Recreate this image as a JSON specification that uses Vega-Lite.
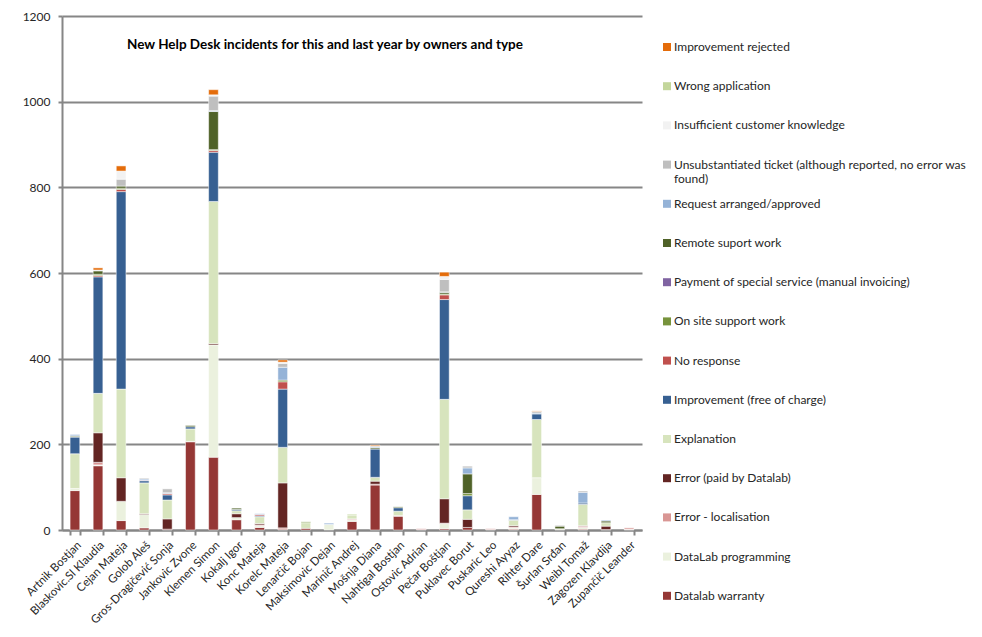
{
  "$schema": "https://vega.github.io/schema/vega-lite/v6.json",
  "width": 580,
  "height": 514,
  "autosize": "none",
  "padding": {"left": 62, "top": 16, "right": 340, "bottom": 107},
  "background": "white",
  "config": {"font": "Lato", "view": {"stroke": null}},
  "title": {"text": "New Help Desk incidents for this and last year by owners and type", "fontSize": 13.5, "fontWeight": "bold", "color": "#000000", "anchor": "middle", "dx": -27, "offset": -41},
  "datasets": {
    "types": [
      {"type": "Datalab warranty", "series": 1},
      {"type": "DataLab programming", "series": 2},
      {"type": "Error - localisation", "series": 3},
      {"type": "Error (paid by Datalab)", "series": 4},
      {"type": "Explanation", "series": 5},
      {"type": "Improvement (free of charge)", "series": 6},
      {"type": "No response", "series": 7},
      {"type": "On site support work", "series": 8},
      {"type": "Payment of special service (manual invoicing)", "series": 9},
      {"type": "Remote suport work", "series": 10},
      {"type": "Request arranged/approved", "series": 11},
      {"type": "Unsubstantiated ticket (although reported, no error was found)", "series": 12},
      {"type": "Insufficient customer knowledge", "series": 13},
      {"type": "Wrong application", "series": 14},
      {"type": "Improvement rejected", "series": 15}
    ]
  },
  "data": {"values": [
    {"owner": "Artnik Bostjan", "type": "Datalab warranty", "count": 92},
    {"owner": "Artnik Bostjan", "type": "DataLab programming", "count": 5},
    {"owner": "Artnik Bostjan", "type": "Explanation", "count": 81},
    {"owner": "Artnik Bostjan", "type": "Improvement (free of charge)", "count": 39},
    {"owner": "Artnik Bostjan", "type": "On site support work", "count": 1},
    {"owner": "Artnik Bostjan", "type": "Remote suport work", "count": 2},
    {"owner": "Artnik Bostjan", "type": "Request arranged/approved", "count": 3},
    {"owner": "Blaskovic.Sl Klaudia", "type": "Datalab warranty", "count": 150},
    {"owner": "Blaskovic.Sl Klaudia", "type": "DataLab programming", "count": 2},
    {"owner": "Blaskovic.Sl Klaudia", "type": "Error - localisation", "count": 6},
    {"owner": "Blaskovic.Sl Klaudia", "type": "Error (paid by Datalab)", "count": 69},
    {"owner": "Blaskovic.Sl Klaudia", "type": "Explanation", "count": 92},
    {"owner": "Blaskovic.Sl Klaudia", "type": "Improvement (free of charge)", "count": 272},
    {"owner": "Blaskovic.Sl Klaudia", "type": "No response", "count": 3},
    {"owner": "Blaskovic.Sl Klaudia", "type": "On site support work", "count": 3},
    {"owner": "Blaskovic.Sl Klaudia", "type": "Remote suport work", "count": 8},
    {"owner": "Blaskovic.Sl Klaudia", "type": "Request arranged/approved", "count": 1},
    {"owner": "Blaskovic.Sl Klaudia", "type": "Unsubstantiated ticket (although reported, no error was found)", "count": 1},
    {"owner": "Blaskovic.Sl Klaudia", "type": "Improvement rejected", "count": 5},
    {"owner": "Cejan Mateja", "type": "Datalab warranty", "count": 22},
    {"owner": "Cejan Mateja", "type": "DataLab programming", "count": 45},
    {"owner": "Cejan Mateja", "type": "Error (paid by Datalab)", "count": 55},
    {"owner": "Cejan Mateja", "type": "Explanation", "count": 207},
    {"owner": "Cejan Mateja", "type": "Improvement (free of charge)", "count": 461},
    {"owner": "Cejan Mateja", "type": "No response", "count": 5},
    {"owner": "Cejan Mateja", "type": "On site support work", "count": 3},
    {"owner": "Cejan Mateja", "type": "Remote suport work", "count": 5},
    {"owner": "Cejan Mateja", "type": "Unsubstantiated ticket (although reported, no error was found)", "count": 16},
    {"owner": "Cejan Mateja", "type": "Insufficient customer knowledge", "count": 19},
    {"owner": "Cejan Mateja", "type": "Improvement rejected", "count": 12},
    {"owner": "Golob Aleš", "type": "Datalab warranty", "count": 5},
    {"owner": "Golob Aleš", "type": "DataLab programming", "count": 31},
    {"owner": "Golob Aleš", "type": "Error (paid by Datalab)", "count": 2},
    {"owner": "Golob Aleš", "type": "Explanation", "count": 72},
    {"owner": "Golob Aleš", "type": "Improvement (free of charge)", "count": 5},
    {"owner": "Golob Aleš", "type": "No response", "count": 1},
    {"owner": "Golob Aleš", "type": "Request arranged/approved", "count": 3},
    {"owner": "Golob Aleš", "type": "Unsubstantiated ticket (although reported, no error was found)", "count": 2},
    {"owner": "Gros-Dragičević Sonja", "type": "Datalab warranty", "count": 2},
    {"owner": "Gros-Dragičević Sonja", "type": "Error (paid by Datalab)", "count": 24},
    {"owner": "Gros-Dragičević Sonja", "type": "Explanation", "count": 44},
    {"owner": "Gros-Dragičević Sonja", "type": "Improvement (free of charge)", "count": 12},
    {"owner": "Gros-Dragičević Sonja", "type": "No response", "count": 3},
    {"owner": "Gros-Dragičević Sonja", "type": "Request arranged/approved", "count": 2},
    {"owner": "Gros-Dragičević Sonja", "type": "Unsubstantiated ticket (although reported, no error was found)", "count": 9},
    {"owner": "Jankovic Zvone", "type": "Datalab warranty", "count": 206},
    {"owner": "Jankovic Zvone", "type": "DataLab programming", "count": 1},
    {"owner": "Jankovic Zvone", "type": "Explanation", "count": 29},
    {"owner": "Jankovic Zvone", "type": "Improvement (free of charge)", "count": 5},
    {"owner": "Jankovic Zvone", "type": "Remote suport work", "count": 3},
    {"owner": "Klemen Simon", "type": "Datalab warranty", "count": 170},
    {"owner": "Klemen Simon", "type": "DataLab programming", "count": 262},
    {"owner": "Klemen Simon", "type": "Error (paid by Datalab)", "count": 3},
    {"owner": "Klemen Simon", "type": "Explanation", "count": 332},
    {"owner": "Klemen Simon", "type": "Improvement (free of charge)", "count": 115},
    {"owner": "Klemen Simon", "type": "No response", "count": 4},
    {"owner": "Klemen Simon", "type": "On site support work", "count": 2},
    {"owner": "Klemen Simon", "type": "Remote suport work", "count": 89},
    {"owner": "Klemen Simon", "type": "Request arranged/approved", "count": 2},
    {"owner": "Klemen Simon", "type": "Unsubstantiated ticket (although reported, no error was found)", "count": 34},
    {"owner": "Klemen Simon", "type": "Insufficient customer knowledge", "count": 3},
    {"owner": "Klemen Simon", "type": "Improvement rejected", "count": 12},
    {"owner": "Kokalj Igor", "type": "Datalab warranty", "count": 24},
    {"owner": "Kokalj Igor", "type": "DataLab programming", "count": 5},
    {"owner": "Kokalj Igor", "type": "Error (paid by Datalab)", "count": 9},
    {"owner": "Kokalj Igor", "type": "Explanation", "count": 7},
    {"owner": "Kokalj Igor", "type": "Improvement (free of charge)", "count": 3},
    {"owner": "Kokalj Igor", "type": "Remote suport work", "count": 3},
    {"owner": "Konc Mateja", "type": "Datalab warranty", "count": 6},
    {"owner": "Konc Mateja", "type": "DataLab programming", "count": 4},
    {"owner": "Konc Mateja", "type": "Error - localisation", "count": 2},
    {"owner": "Konc Mateja", "type": "Error (paid by Datalab)", "count": 3},
    {"owner": "Konc Mateja", "type": "Explanation", "count": 16},
    {"owner": "Konc Mateja", "type": "Improvement (free of charge)", "count": 2},
    {"owner": "Konc Mateja", "type": "No response", "count": 3},
    {"owner": "Konc Mateja", "type": "Request arranged/approved", "count": 2},
    {"owner": "Korelc Mateja", "type": "Datalab warranty", "count": 2},
    {"owner": "Korelc Mateja", "type": "Error - localisation", "count": 3},
    {"owner": "Korelc Mateja", "type": "Error (paid by Datalab)", "count": 105},
    {"owner": "Korelc Mateja", "type": "Explanation", "count": 83},
    {"owner": "Korelc Mateja", "type": "Improvement (free of charge)", "count": 136},
    {"owner": "Korelc Mateja", "type": "No response", "count": 17},
    {"owner": "Korelc Mateja", "type": "On site support work", "count": 4},
    {"owner": "Korelc Mateja", "type": "Request arranged/approved", "count": 30},
    {"owner": "Korelc Mateja", "type": "Unsubstantiated ticket (although reported, no error was found)", "count": 9},
    {"owner": "Korelc Mateja", "type": "Insufficient customer knowledge", "count": 3},
    {"owner": "Korelc Mateja", "type": "Improvement rejected", "count": 5},
    {"owner": "Lenarčič Bojan", "type": "Datalab warranty", "count": 4},
    {"owner": "Lenarčič Bojan", "type": "Explanation", "count": 13},
    {"owner": "Lenarčič Bojan", "type": "On site support work", "count": 2},
    {"owner": "Maksimovic Dejan", "type": "DataLab programming", "count": 13},
    {"owner": "Maksimovic Dejan", "type": "Request arranged/approved", "count": 3},
    {"owner": "Marinič Andrej", "type": "Datalab warranty", "count": 20},
    {"owner": "Marinič Andrej", "type": "DataLab programming", "count": 4},
    {"owner": "Marinič Andrej", "type": "Error - localisation", "count": 2},
    {"owner": "Marinič Andrej", "type": "Explanation", "count": 9},
    {"owner": "Marinič Andrej", "type": "Wrong application", "count": 2},
    {"owner": "Mošnja Diana", "type": "Datalab warranty", "count": 105},
    {"owner": "Mošnja Diana", "type": "Error - localisation", "count": 2},
    {"owner": "Mošnja Diana", "type": "Error (paid by Datalab)", "count": 7},
    {"owner": "Mošnja Diana", "type": "Explanation", "count": 9},
    {"owner": "Mošnja Diana", "type": "Improvement (free of charge)", "count": 66},
    {"owner": "Mošnja Diana", "type": "Remote suport work", "count": 3},
    {"owner": "Mošnja Diana", "type": "Request arranged/approved", "count": 2},
    {"owner": "Mošnja Diana", "type": "Unsubstantiated ticket (although reported, no error was found)", "count": 2},
    {"owner": "Mošnja Diana", "type": "Improvement rejected", "count": 2},
    {"owner": "Nahtigal Bostjan", "type": "Datalab warranty", "count": 32},
    {"owner": "Nahtigal Bostjan", "type": "Error - localisation", "count": 2},
    {"owner": "Nahtigal Bostjan", "type": "Explanation", "count": 10},
    {"owner": "Nahtigal Bostjan", "type": "Improvement (free of charge)", "count": 8},
    {"owner": "Nahtigal Bostjan", "type": "Remote suport work", "count": 2},
    {"owner": "Ostovic Adrian", "type": "Datalab warranty", "count": 1},
    {"owner": "Ostovic Adrian", "type": "Error - localisation", "count": 2},
    {"owner": "Pečar Boštjan", "type": "Datalab warranty", "count": 3},
    {"owner": "Pečar Boštjan", "type": "DataLab programming", "count": 12},
    {"owner": "Pečar Boštjan", "type": "Error - localisation", "count": 1},
    {"owner": "Pečar Boštjan", "type": "Error (paid by Datalab)", "count": 57},
    {"owner": "Pečar Boštjan", "type": "Explanation", "count": 232},
    {"owner": "Pečar Boštjan", "type": "Improvement (free of charge)", "count": 233},
    {"owner": "Pečar Boštjan", "type": "No response", "count": 11},
    {"owner": "Pečar Boštjan", "type": "On site support work", "count": 2},
    {"owner": "Pečar Boštjan", "type": "Remote suport work", "count": 4},
    {"owner": "Pečar Boštjan", "type": "Request arranged/approved", "count": 1},
    {"owner": "Pečar Boštjan", "type": "Unsubstantiated ticket (although reported, no error was found)", "count": 29},
    {"owner": "Pečar Boštjan", "type": "Insufficient customer knowledge", "count": 7},
    {"owner": "Pečar Boštjan", "type": "Improvement rejected", "count": 10},
    {"owner": "Puklavec Borut", "type": "Datalab warranty", "count": 6},
    {"owner": "Puklavec Borut", "type": "Error (paid by Datalab)", "count": 19},
    {"owner": "Puklavec Borut", "type": "Explanation", "count": 22},
    {"owner": "Puklavec Borut", "type": "Improvement (free of charge)", "count": 33},
    {"owner": "Puklavec Borut", "type": "On site support work", "count": 5},
    {"owner": "Puklavec Borut", "type": "Remote suport work", "count": 46},
    {"owner": "Puklavec Borut", "type": "Request arranged/approved", "count": 14},
    {"owner": "Puklavec Borut", "type": "Unsubstantiated ticket (although reported, no error was found)", "count": 4},
    {"owner": "Puskaric Leo", "type": "DataLab programming", "count": 1},
    {"owner": "Puskaric Leo", "type": "Error - localisation", "count": 2},
    {"owner": "Qureshi Ayyaz", "type": "Datalab warranty", "count": 2},
    {"owner": "Qureshi Ayyaz", "type": "DataLab programming", "count": 3},
    {"owner": "Qureshi Ayyaz", "type": "Error - localisation", "count": 2},
    {"owner": "Qureshi Ayyaz", "type": "Error (paid by Datalab)", "count": 3},
    {"owner": "Qureshi Ayyaz", "type": "Explanation", "count": 13},
    {"owner": "Qureshi Ayyaz", "type": "Improvement (free of charge)", "count": 1},
    {"owner": "Qureshi Ayyaz", "type": "Request arranged/approved", "count": 7},
    {"owner": "Rihter Dare", "type": "Datalab warranty", "count": 83},
    {"owner": "Rihter Dare", "type": "DataLab programming", "count": 39},
    {"owner": "Rihter Dare", "type": "Explanation", "count": 136},
    {"owner": "Rihter Dare", "type": "Improvement (free of charge)", "count": 13},
    {"owner": "Rihter Dare", "type": "Request arranged/approved", "count": 2},
    {"owner": "Rihter Dare", "type": "Unsubstantiated ticket (although reported, no error was found)", "count": 4},
    {"owner": "Rihter Dare", "type": "Improvement rejected", "count": 1},
    {"owner": "Šurlan Srđan", "type": "Datalab warranty", "count": 1},
    {"owner": "Šurlan Srđan", "type": "Explanation", "count": 2},
    {"owner": "Šurlan Srđan", "type": "Remote suport work", "count": 6},
    {"owner": "Šurlan Srđan", "type": "Unsubstantiated ticket (although reported, no error was found)", "count": 2},
    {"owner": "Weibl Tomaž", "type": "Datalab warranty", "count": 2},
    {"owner": "Weibl Tomaž", "type": "DataLab programming", "count": 4},
    {"owner": "Weibl Tomaž", "type": "Error - localisation", "count": 3},
    {"owner": "Weibl Tomaž", "type": "Error (paid by Datalab)", "count": 1},
    {"owner": "Weibl Tomaž", "type": "Explanation", "count": 50},
    {"owner": "Weibl Tomaž", "type": "Improvement (free of charge)", "count": 3},
    {"owner": "Weibl Tomaž", "type": "Request arranged/approved", "count": 25},
    {"owner": "Weibl Tomaž", "type": "Unsubstantiated ticket (although reported, no error was found)", "count": 3},
    {"owner": "Zagozen Klavdija", "type": "Datalab warranty", "count": 1},
    {"owner": "Zagozen Klavdija", "type": "Error (paid by Datalab)", "count": 8},
    {"owner": "Zagozen Klavdija", "type": "Explanation", "count": 8},
    {"owner": "Zagozen Klavdija", "type": "Remote suport work", "count": 4},
    {"owner": "Zagozen Klavdija", "type": "Request arranged/approved", "count": 2},
    {"owner": "Zupančič Leander", "type": "Datalab warranty", "count": 1},
    {"owner": "Zupančič Leander", "type": "DataLab programming", "count": 1},
    {"owner": "Zupančič Leander", "type": "Error - localisation", "count": 3}
  ]},
  "transform": [
    {"lookup": "type", "from": {"data": {"name": "types"}, "key": "type", "fields": ["series"]}}
  ],
  "mark": {"type": "bar", "stroke": "white", "strokeWidth": 0.5},
  "encoding": {
    "x": {
      "field": "owner", "type": "nominal", "sort": null,
      "scale": {"paddingInner": 0.58, "paddingOuter": 0.35},
      "axis": {"title": null, "labelAngle": -45, "labelFontSize": 11.5, "labelColor": "#262626", "labelPadding": 4,
               "domainColor": "#868686", "domainWidth": 2, "tickColor": "#868686", "tickWidth": 2, "tickSize": 5, "tickBand": "extent"}
    },
    "y": {
      "field": "count", "type": "quantitative", "stack": "zero",
      "scale": {"domain": [0, 1200], "nice": false},
      "axis": {"title": null, "values": [0, 200, 400, 600, 800, 1000, 1200], "format": "d", "grid": true, "gridColor": "#868686", "gridWidth": 2,
               "domainColor": "#868686", "domainWidth": 2, "tickColor": "#868686", "tickWidth": 2, "tickSize": 4, "labelPadding": 8,
               "labelFontSize": 12, "labelColor": "#262626"}
    },
    "order": {"field": "series", "type": "quantitative", "sort": "ascending"},
    "color": {
      "field": "type", "type": "nominal",
      "scale": {
        "domain": ["Improvement rejected", "Wrong application", "Insufficient customer knowledge", "Unsubstantiated ticket (although reported, no error was found)", "Request arranged/approved", "Remote suport work", "Payment of special service (manual invoicing)", "On site support work", "No response", "Improvement (free of charge)", "Explanation", "Error (paid by Datalab)", "Error - localisation", "DataLab programming", "Datalab warranty"],
        "range": ["#E46C0A", "#C3D69B", "#F2F2F2", "#BFBFBF", "#95B3D7", "#4F6228", "#8064A2", "#77933C", "#C0504D", "#376092", "#D7E4BD", "#632523", "#D99694", "#EBF1DE", "#953735"]
      },
      "legend": {
        "orient": "none", "legendX": 599, "legendY": 25, "title": null, "padding": 0,
        "values": ["Improvement rejected", "Wrong application", "Insufficient customer knowledge", "Unsubstantiated ticket (although reported, no error was found)", "Request arranged/approved", "Remote suport work", "Payment of special service (manual invoicing)", "On site support work", "No response", "Improvement (free of charge)", "Explanation", "Error (paid by Datalab)", "Error - localisation", "DataLab programming", "Datalab warranty"],
        "symbolType": "square", "symbolSize": 64, "symbolStrokeWidth": 0,
        "labelFontSize": 12, "labelColor": "#262626", "labelOffset": 1, "labelLimit": 340,
        "rowPadding": 13.2, "gridAlign": "all",
        "labelExpr": "datum.label == 'Unsubstantiated ticket (although reported, no error was found)' ? ['Unsubstantiated ticket (although reported, no error was', 'found)'] : datum.label"
      }
    }
  }
}
